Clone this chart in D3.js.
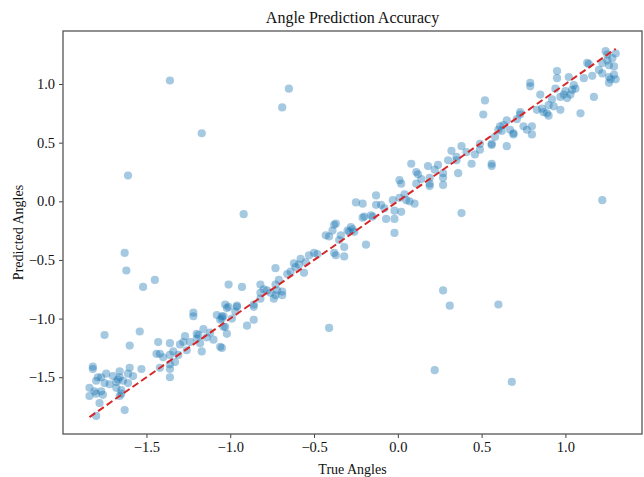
<!DOCTYPE html>
<html>
<head>
<meta charset="utf-8">
<script src="https://cdn.jsdelivr.net/npm/d3@7"></script>
<style>
  body { margin: 0; background: #fff; }
  svg { display: block; font-family: "Liberation Serif", "Times New Roman", serif; }
</style>
</head>
<body>
<div id="chart"></div>
<script>
// values
var trueAngles = [
  -1.36,-0.65,-0.69,-1.17,-1.61,-0.92,-1.63,-1.62,-1.45,-1.52,-0.41,0.27,0.31,0.60,0.22,0.68,1.22,-1.75,0.38,
  -1.54,-1.60,-1.82,-1.82,-1.84,-1.84,-1.80,-1.79,-1.77,-1.80,-1.77,-1.78,-1.76,-1.80,-1.74,-1.68,-1.67,-1.66,-1.68,-1.65,
  -1.65,-1.61,-1.60,-1.61,-1.63,-1.53,-1.44,-1.42,-1.43,-1.42,-1.36,-1.36,-1.36,-1.36,-1.36,-1.31,-1.33,-1.28,-1.26,-1.24,
  -1.22,-1.22,-1.20,-1.20,-1.18,-1.17,-1.16,-1.14,-1.10,-1.06,-1.05,-1.04,-1.05,-1.04,-1.03,-1.01,-1.02,-0.99,-0.96,-0.90,-1.08,
  -1.70,-1.72,-1.66,-1.64,
  -1.01,-0.93,-0.82,-0.82,-0.82,-0.73,-0.73,-0.72,-0.73,-0.71,-0.69,-0.69,-0.76,-0.78,-0.74,-0.86,-0.86,-0.96,-1.02,-1.05,
  -1.06,-1.03,-0.86,-0.62,-0.61,-0.59,-0.58,-0.56,-0.53,-0.50,-0.43,-0.41,-0.38,-0.37,-0.39,-0.38,-0.37,-0.32,-0.32,-0.34,
  -0.30,-0.29,-0.28,-0.26,-0.19,-0.21,-0.20,-0.25,-0.21,-0.15,-0.13,-0.13,-0.10,-0.07,-0.03,-0.02,-0.02,-0.02,0.01,0.02,
  0.02,0.01,0.07,0.10,0.11,0.05,
  0.08,0.11,0.12,0.18,0.19,0.19,0.19,0.24,0.27,0.27,0.27,0.36,0.35,0.32,0.38,0.35,0.44,0.49,0.49,0.56,
  0.56,0.56,0.56,0.52,0.51,0.61,0.60,0.63,0.65,0.65,0.67,0.69,0.69,0.73,0.73,0.75,0.77,0.80,0.80,0.79,
  0.79,0.85,0.86,0.87,0.89,0.90,0.90,0.93,0.95,0.95,0.94,0.97,0.97,0.99,1.01,1.02,1.03,1.04,1.06,1.05,
  1.09,1.13,1.14,1.17,1.16,1.22,1.22,1.24,1.25,1.26,1.26,1.26,1.27,1.29,1.29,1.30,1.30,
  -1.81,-1.75,-1.66,-1.58,-1.40,-1.34,-1.30,-1.27,-1.19,-1.12,-0.97,-0.80,-0.66,-0.64,-0.55,-0.48,-0.35,-0.27,-0.16,-0.08,
  0.04,0.14,0.22,0.30,0.41,0.46,0.58,0.62,0.71,0.83,0.92,1.00,1.11,1.20,1.25,1.28
];
var predAngles = [
  1.03,0.96,0.80,0.58,0.22,-0.11,-0.44,-0.59,-0.67,-0.73,-1.08,-0.76,-0.89,-0.88,-1.44,-1.54,0.01,-1.14,-0.10,
  -1.11,-1.23,-1.41,-1.43,-1.59,-1.66,-1.53,-1.50,-1.50,-1.64,-1.62,-1.72,-1.65,-1.83,-1.47,-1.54,-1.52,-1.45,-1.59,-1.61,
  -1.64,-1.47,-1.42,-1.55,-1.78,-1.43,-1.30,-1.30,-1.20,-1.42,-1.39,-1.43,-1.50,-1.21,-1.31,-1.31,-1.37,-1.20,-1.27,-1.20,
  -0.98,-0.95,-1.17,-1.13,-1.21,-1.28,-1.09,-1.16,-1.18,-1.24,-1.25,-1.07,-1.00,-0.98,-0.88,-0.90,-1.13,-1.00,-0.89,-1.06,-0.97,
  -1.49,-1.56,-1.50,-1.53,
  -0.71,-0.73,-0.71,-0.78,-0.83,-0.57,-0.71,-0.76,-0.80,-0.67,-0.77,-0.80,-0.78,-0.76,-0.83,-0.88,-0.90,-0.90,-0.91,-0.98,
  -1.01,-1.07,-1.01,-0.53,-0.56,-0.54,-0.49,-0.61,-0.46,-0.44,-0.29,-0.30,-0.20,-0.19,-0.25,-0.44,-0.46,-0.39,-0.47,-0.29,
  -0.25,-0.26,-0.22,-0.26,-0.37,-0.14,-0.13,-0.01,-0.02,-0.13,0.05,-0.03,-0.03,-0.15,0.01,-0.15,-0.27,-0.08,0.03,-0.09,
  0.15,0.18,0.00,-0.02,0.15,0.01,
  0.32,0.25,0.23,0.30,0.20,0.15,0.13,0.31,0.24,0.20,0.14,0.24,0.38,0.43,0.47,0.35,0.32,0.49,0.44,0.48,
  0.49,0.32,0.30,0.86,0.74,0.64,0.61,0.65,0.69,0.47,0.61,0.58,0.57,0.76,0.74,0.64,0.61,0.57,0.64,1.01,
  0.98,0.91,0.79,0.76,0.75,0.73,0.82,0.81,1.11,1.05,0.96,0.78,0.89,0.91,0.88,1.06,0.91,0.95,0.96,0.99,
  0.75,1.18,1.17,0.89,1.07,1.18,1.09,1.28,1.25,1.16,1.06,1.01,1.04,1.15,1.08,1.04,1.26,
  -1.62,-1.55,-1.66,-1.49,-1.33,-1.28,-1.22,-1.15,-1.14,-1.12,-0.94,-0.75,-0.62,-0.60,-0.52,-0.45,-0.33,-0.24,-0.12,-0.06,
  0.06,0.19,0.27,0.35,0.42,0.40,0.55,0.60,0.70,0.78,0.87,0.94,1.05,1.12,1.20,1.22
];
var xTicks = [-1.5, -1.0, -0.5, 0.0, 0.5, 1.0];
var yTicks = [-1.5, -1.0, -0.5, 0.0, 0.5, 1.0];
var xDomain = [-1.998, 1.457];
var yDomain = [-1.984, 1.452];

var width = 644, height = 477;
var margin = {top: 31, right: 2, bottom: 43, left: 63};
var innerW = width - margin.left - margin.right;
var innerH = height - margin.top - margin.bottom;

var svg = d3.select("#chart")
        .append("svg")
        .attr("width", width)
        .attr("height", height);

var g = svg.append("g")
        .attr("transform", "translate(" + margin.left + "," + margin.top + ")");

var x = d3.scaleLinear().domain(xDomain).range([0, innerW]);
var y = d3.scaleLinear().domain(yDomain).range([innerH, 0]);

var fmt = function(d){ return d3.format(".1f")(d).replace("-", "\u2212"); };

var points = trueAngles.map(function(t, i){ return {t: t, p: predAngles[i]}; });

g.selectAll("circle.pt")
        .data(points)
        .enter()
        .append("circle")
        .attr("class", "pt")
        .attr("cx", function(d){ return x(d.t); })
        .attr("cy", function(d){ return y(d.p); })
        .attr("r", 4.1)
        .attr("fill", "#1f77b4")
        .attr("fill-opacity", 0.4);

var lo = d3.min(trueAngles), hi = d3.max(trueAngles);
g.append("line")
        .attr("x1", x(lo)).attr("y1", y(lo))
        .attr("x2", x(hi)).attr("y2", y(hi))
        .attr("stroke", "#d62728")
        .attr("stroke-width", 2)
        .attr("stroke-dasharray", "7,3.5");

var xAxis = g.append("g")
        .attr("transform", "translate(0," + innerH + ")")
        .call(d3.axisBottom(x).tickValues(xTicks).tickSize(4).tickPadding(4).tickFormat(fmt));
var yAxis = g.append("g")
        .call(d3.axisLeft(y).tickValues(yTicks).tickSize(4).tickPadding(4).tickFormat(fmt));

[xAxis, yAxis].forEach(function(a){
    a.select(".domain").remove();
    a.selectAll("line").attr("stroke", "#444");
    a.selectAll("text")
        .attr("fill", "#111")
        .style("font-family", "'Liberation Serif', 'Times New Roman', serif")
        .style("font-size", "14.5px");
});

g.append("rect")
        .attr("x", 0).attr("y", 0)
        .attr("width", innerW).attr("height", innerH)
        .attr("fill", "none")
        .attr("stroke", "#555")
        .attr("stroke-width", 1.3);

svg.append("text")
        .attr("x", margin.left + innerW / 2)
        .attr("y", 23)
        .attr("text-anchor", "middle")
        .attr("fill", "#111")
        .style("font-size", "16px")
        .text("Angle Prediction Accuracy");

svg.append("text")
        .attr("x", margin.left + innerW / 2)
        .attr("y", 474)
        .attr("text-anchor", "middle")
        .attr("fill", "#111")
        .style("font-size", "14px")
        .text("True Angles");

svg.append("text")
        .attr("transform", "translate(23," + (margin.top + innerH / 2) + ") rotate(-90)")
        .attr("text-anchor", "middle")
        .attr("fill", "#111")
        .style("font-size", "14px")
        .text("Predicted Angles");
</script>
</body>
</html>
